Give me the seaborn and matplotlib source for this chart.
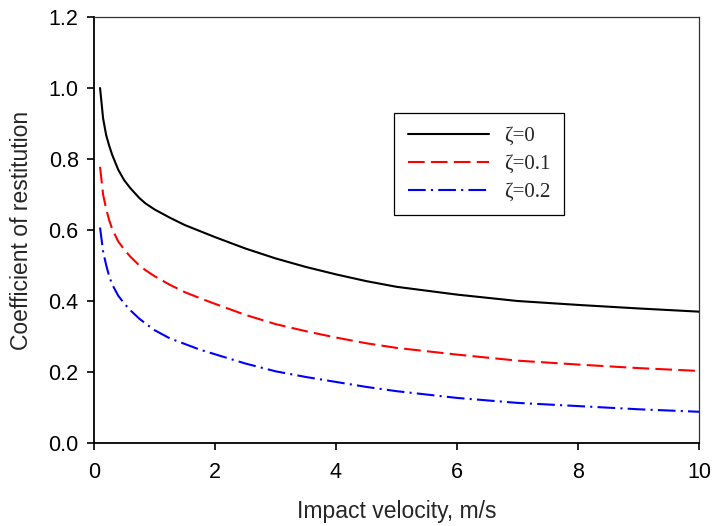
import numpy as np
import pandas as pd
import matplotlib
matplotlib.use("Agg")
import matplotlib.pyplot as plt
import seaborn as sns

# ---- data ----
velocity = [0.1, 0.15, 0.2, 0.25, 0.3, 0.4, 0.5, 0.6, 0.75, 0.85, 1.0, 1.25, 1.5, 1.75,
            2.0, 2.5, 3.0, 3.5, 4.0, 4.5, 5.0, 6.0, 7.0, 8.0, 9.0, 10.0]
e_zeta0 = [1.0, 0.915, 0.868, 0.838, 0.812, 0.77, 0.74, 0.718, 0.69, 0.675, 0.658, 0.635,
           0.614, 0.597, 0.58, 0.548, 0.52, 0.496, 0.475, 0.456, 0.44, 0.418, 0.40,
           0.389, 0.379, 0.37]
e_zeta01 = [0.778, 0.70, 0.66, 0.628, 0.603, 0.568, 0.545, 0.525, 0.50, 0.487, 0.47, 0.446,
            0.425, 0.408, 0.392, 0.361, 0.335, 0.315, 0.297, 0.281, 0.268, 0.249, 0.232,
            0.221, 0.211, 0.203]
e_zeta02 = [0.607, 0.54, 0.502, 0.47, 0.447, 0.415, 0.393, 0.374, 0.35, 0.337, 0.318, 0.295,
            0.279, 0.263, 0.25, 0.224, 0.202, 0.186, 0.172, 0.158, 0.146, 0.127, 0.113,
            0.104, 0.095, 0.088]
labels = ["ζ=0", "ζ=0.1", "ζ=0.2"]
x_ticks = [0, 2, 4, 6, 8, 10]
y_ticks = [0.0, 0.2, 0.4, 0.6, 0.8, 1.0, 1.2]

df = pd.concat([
    pd.DataFrame({"v": velocity, "e": vals, "case": lab})
    for vals, lab in zip([e_zeta0, e_zeta01, e_zeta02], labels)
], ignore_index=True)

sns.set_theme(style="ticks")
plt.rcParams["font.family"] = ["Liberation Sans", "DejaVu Sans"]

fig = plt.figure(figsize=(7.14, 5.26), dpi=100)
ax = fig.add_axes([94 / 714, 1 - 443 / 526, 605 / 714, 426 / 526])

palette = {"ζ=0": "black", "ζ=0.1": "#ff0000", "ζ=0.2": "#0000ff"}
dashes = {"ζ=0": "", "ζ=0.1": (8, 3), "ζ=0.2": (8.5, 2.5, 1, 2.5)}
sns.lineplot(data=df, x="v", y="e", hue="case", style="case",
             palette=palette, dashes=dashes, linewidth=1.5, ax=ax,
             estimator=None, sort=False)

ax.set_xlim(0, 10)
ax.set_ylim(0, 1.2)
ax.set_xticks(x_ticks)
ax.set_xticklabels([str(t) for t in x_ticks])
ax.set_yticks(y_ticks)
ax.set_yticklabels([f"{t:.1f}" for t in y_ticks])
ax.tick_params(axis="both", direction="out", length=5, width=1.2, labelsize=15.5,
               colors="black")
ax.tick_params(axis="x", pad=9)
ax.tick_params(axis="y", pad=6)
ax.set_xlabel("Impact velocity, m/s", fontsize=16.5, labelpad=12)
ax.set_ylabel("Coefficient of restitution", fontsize=16.5, labelpad=11)

for side in ["left", "bottom"]:
    ax.spines[side].set_linewidth(1.3)
    ax.spines[side].set_color("black")
for side in ["top", "right"]:
    ax.spines[side].set_visible(True)
    ax.spines[side].set_linewidth(0.9)
    ax.spines[side].set_color("#333333")

leg = ax.legend(loc="upper left", bbox_to_anchor=(0.496, 0.775), frameon=True,
                fancybox=False, shadow=False, title=None,
                prop={"family": "Liberation Serif", "size": 15},
                handlelength=3.9, handletextpad=0.75, borderpad=0.65,
                labelspacing=0.4, borderaxespad=0)
leg.get_frame().set_edgecolor("black")
leg.get_frame().set_linewidth(0.9)
leg.get_frame().set_facecolor("white")
leg.get_frame().set_alpha(1)

fig.savefig("out.png", dpi=100)
